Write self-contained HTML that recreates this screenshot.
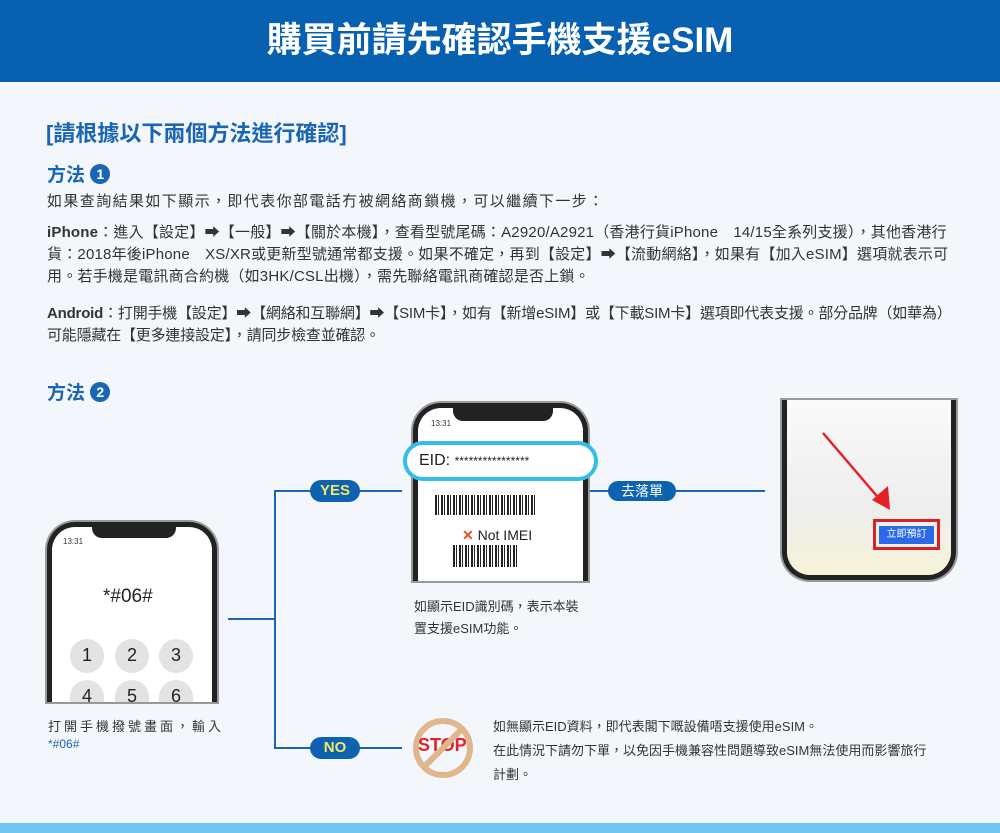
<!DOCTYPE html>
<html><head><meta charset="utf-8"><style>
*{margin:0;padding:0;box-sizing:border-box}
body{width:1000px;height:833px;background:#f3f7fb;position:relative;overflow:hidden;font-family:"Liberation Sans","Noto Sans CJK TC",sans-serif;color:#333}
.a{position:absolute;white-space:nowrap}
.hd{left:0;top:0;width:1000px;height:82px;background:#0861b0;color:#fff;font-size:35px;font-weight:bold;text-align:center;line-height:82px}
.blue{color:#1a66b3}
.t{font-size:15px;left:47px;line-height:22px}
.c{display:inline-block;width:20px;height:20px;border-radius:50%;background:#1a66b3;color:#fff;font-size:14px;text-align:center;line-height:20px;font-weight:bold;vertical-align:2px}
.line{position:absolute;background:#1a66b3}
.pill{position:absolute;background:#0d63b0;color:#fff;border-radius:12px;text-align:center;font-weight:bold;font-size:15px;line-height:22px;height:22px}
.ph{position:absolute;border:5px solid #222;border-bottom:none;border-radius:28px 28px 0 0;background:#fff;box-shadow:0 0 0 2px #999}
.key{position:absolute;width:34px;height:34px;border-radius:50%;background:#e3e3e3;text-align:center;font-size:18px;line-height:32px;color:#222}
</style></head><body>
<div class="a hd">購買前請先確認手機支援eSIM</div>
<div class="a blue" style="left:46px;top:116px;font-size:22px;font-weight:bold">[請根據以下兩個方法進行確認]</div>
<div class="a blue" style="left:47px;top:160px;font-size:19px;font-weight:bold">方法 <span class="c">1</span></div>
<div class="a t" style="top:191px;letter-spacing:1.4px">如果查詢結果如下顯示，即代表你部電話冇被網絡商鎖機，可以繼續下一步：</div>
<div class="a t" style="top:222px;letter-spacing:0.2px"><b>iPhone</b>：進入【設定】➡【一般】➡【關於本機】，查看型號尾碼：A2920/A2921（香港行貨iPhone　14/15全系列支援），其他香港行<br>貨：2018年後iPhone　XS/XR或更新型號通常都支援。如果不確定，再到【設定】➡【流動網絡】，如果有【加入eSIM】選項就表示可<br>用。若手機是電訊商合約機（如3HK/CSL出機），需先聯絡電訊商確認是否上鎖。</div>
<div class="a t" style="top:303px;letter-spacing:-0.2px"><b>Android</b>：打開手機【設定】➡【網絡和互聯網】➡【SIM卡】，如有【新增eSIM】或【下載SIM卡】選項即代表支援。部分品牌（如華為）<br>可能隱藏在【更多連接設定】，請同步檢查並確認。</div>
<div class="a blue" style="left:47px;top:378px;font-size:19px;font-weight:bold">方法 <span class="c">2</span></div>

<!-- phone 1 -->
<div class="ph" style="left:47px;top:522px;width:170px;height:180px"></div>
<div class="a" style="left:92px;top:524px;width:84px;height:14px;background:#222;border-radius:0 0 10px 10px"></div>
<div class="a" style="left:63px;top:537px;font-size:8px;color:#333">13:31</div>
<div class="a" style="left:103px;top:586px;font-size:19px;color:#222">*#06#</div>
<div class="key" style="left:70px;top:639px">1</div>
<div class="key" style="left:115px;top:639px">2</div>
<div class="key" style="left:159px;top:639px">3</div>
<div class="key" style="left:70px;top:680px;height:22px;border-radius:17px 17px 0 0">4</div>
<div class="key" style="left:115px;top:680px;height:22px;border-radius:17px 17px 0 0">5</div>
<div class="key" style="left:159px;top:680px;height:22px;border-radius:17px 17px 0 0">6</div>
<div class="a" style="left:48px;top:716px;font-size:13px;letter-spacing:3px">打開手機撥號畫面，輸入</div>
<div class="a blue" style="left:48px;top:737px;font-size:12px">*#06#</div>

<!-- connectors -->
<div class="line" style="left:228px;top:618px;width:48px;height:2px"></div>
<div class="line" style="left:274px;top:490px;width:2px;height:259px"></div>
<div class="line" style="left:274px;top:490px;width:128px;height:2px"></div>
<div class="line" style="left:274px;top:747px;width:128px;height:2px"></div>
<div class="pill" style="left:310px;top:480px;width:50px;color:#f3e66a">YES</div>
<div class="pill" style="left:310px;top:737px;width:50px;color:#f3e66a">NO</div>
<div class="line" style="left:575px;top:490px;width:190px;height:2px"></div>
<div class="pill" style="left:608px;top:481px;width:68px;height:20px;line-height:20px;font-weight:normal;font-size:14px">去落單</div>

<!-- phone 2 -->
<div class="ph" style="left:413px;top:403px;width:175px;height:178px"></div>
<div class="a" style="left:453px;top:405px;width:100px;height:16px;background:#222;border-radius:0 0 10px 10px"></div>
<div class="a" style="left:431px;top:419px;font-size:8px">13:31</div>
<div class="a" style="left:403px;top:441px;width:195px;height:40px;border:4px solid #33bde8;border-radius:20px;background:#fff;font-size:16px;line-height:32px;padding-left:12px;color:#222">EID: <span style="font-size:12px">****************</span></div>
<div class="a" style="left:435px;top:495px;width:100px;height:20px;background:repeating-linear-gradient(90deg,#222 0 2px,#fff 2px 3px,#222 3px 4px,#fff 4px 6px)"></div>
<div class="a" style="left:462px;top:527px;font-size:14px;color:#222"><span style="color:#e8502a;font-weight:bold">✕</span> Not IMEI</div>
<div class="a" style="left:453px;top:545px;width:65px;height:22px;background:repeating-linear-gradient(90deg,#222 0 2px,#fff 2px 3px,#222 3px 4px,#fff 4px 6px)"></div>
<div class="a" style="left:414px;top:596px;font-size:13px;line-height:22px">如顯示EID識別碼，表示本裝<br>置支援eSIM功能。</div>

<!-- phone 3 -->
<div class="a" style="left:782px;top:400px;width:174px;height:180px;border:5px solid #222;border-top:none;border-radius:0 0 28px 28px;background:linear-gradient(180deg,#fafafa,#eee 60%,#f6f2d8);box-shadow:0 0 0 2px #999"></div>
<svg class="a" style="left:820px;top:430px" width="80" height="80"><line x1="3" y1="3" x2="62" y2="72" stroke="#e42127" stroke-width="2.5"/><polygon points="70,80 52,70 68,56" fill="#e42127"/></svg>
<div class="a" style="left:873px;top:519px;width:67px;height:31px;border:3px solid #d81f2b"></div>
<div class="a" style="left:879px;top:526px;width:55px;height:18px;background:#2a6ae8;color:#fff;font-size:10px;text-align:center;line-height:18px">立即預訂</div>

<!-- stop -->
<div class="a" style="left:413px;top:718px;width:60px;height:60px;border:6px solid #e0b68c;border-radius:50%"></div>
<div class="a" style="left:418px;top:735px;font-size:18px;font-weight:bold;color:#e42127">STOP</div>
<svg class="a" style="left:413px;top:718px" width="60" height="60"><line x1="50" y1="10" x2="10" y2="50" stroke="#e0b68c" stroke-width="6"/></svg>
<div class="a" style="left:493px;top:715px;font-size:13px;line-height:24px">如無顯示EID資料，即代表閣下嘅設備唔支援使用eSIM。<br>在此情況下請勿下單，以免因手機兼容性問題導致eSIM無法使用而影響旅行<br>計劃。</div>

<div class="a" style="left:0;top:823px;width:1000px;height:10px;background:#6ec6ee"></div>
</body></html>
